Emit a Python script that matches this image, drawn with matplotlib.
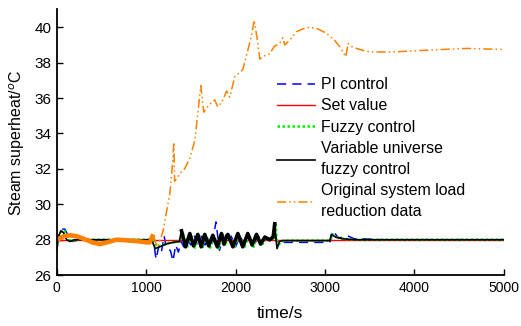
import numpy as np
import matplotlib
matplotlib.use("Agg")
import matplotlib.pyplot as plt

plt.rcParams['font.family'] = ['Liberation Sans', 'DejaVu Sans']

# --- data ---
SET_T = [0, 5000]
SET_V = [28.0, 28.0]

PI_T = [0, 30, 60, 90, 130, 180, 250, 1080, 1110, 1140, 1170, 1200, 1230, 1270, 1300,
        1330, 1360, 1390, 1420, 1460, 1500, 1540, 1580, 1620, 1660, 1700, 1740, 1780,
        1820, 1860, 1900, 1950, 2000, 2050, 2100, 2150, 2200, 2250, 2300, 2350, 2400,
        2440, 2460, 2480, 2520, 3040, 3060, 3090, 3150, 3200, 3260, 3330, 3450, 3600, 5000]
PI_V = [27.8, 28.3, 28.6, 28.6, 28.2, 27.9, 28.0, 28.0, 26.9, 27.6, 27.3, 28.2, 27.5, 27.4, 26.8,
        27.7, 27.3, 27.9, 27.6, 28.0, 27.7, 28.2, 27.6, 28.2, 27.7, 28.1, 27.8, 29.0,
        27.4, 28.1, 27.7, 28.2, 27.6, 28.2, 27.7, 28.2, 27.7, 28.1, 27.8, 28.1, 27.9,
        28.7, 27.9, 27.85, 27.85, 27.85, 27.9, 28.5, 28.1, 28.15, 28.2, 28.05, 28.05, 28.0, 28.0]

FUZZY_T = [0, 25, 55, 85, 120, 160, 210, 270, 1070, 1110, 1160, 1230, 1310, 1380, 1405,
           1455, 1500, 1545, 1590, 1630, 1670, 1715, 1760, 1810, 1855, 1885, 1910, 1925,
           1985, 2040, 2095, 2150, 2200, 2250, 2295, 2340, 2390, 2430, 2448, 2460, 2478,
           2500, 2540, 3045, 3060, 3080, 3130, 3210, 3360, 3500, 5000]
FUZZY_V = [27.6, 28.2, 28.55, 28.5, 28.05, 27.9, 28.0, 28.0, 28.0, 27.6, 27.65, 27.8, 27.85,
           27.9, 28.45, 27.55, 28.3, 27.55, 28.25, 27.5, 28.25, 27.55, 28.2, 27.5, 28.3,
           27.65, 28.15, 28.25, 27.5, 28.3, 27.5, 28.3, 27.6, 28.25, 27.7, 28.1, 27.95,
           28.1, 28.85, 28.0, 27.6, 27.9, 27.95, 27.95, 27.95, 28.3, 28.15, 28.05, 28.0, 28.0, 28.0]

VU_T = [0, 20, 45, 75, 110, 150, 200, 260, 1060, 1100, 1150, 1220, 1300, 1370, 1395,
        1440, 1488, 1530, 1577, 1615, 1655, 1700, 1745, 1795, 1842, 1870, 1898, 1913,
        1970, 2025, 2080, 2136, 2185, 2234, 2280, 2327, 2380, 2420, 2438, 2450, 2464,
        2490, 2530, 3040, 3055, 3070, 3120, 3200, 3350, 3500, 5000]
VU_V = [27.4, 28.2, 28.5, 28.4, 28.0, 27.9, 28.0, 28.0, 28.0, 27.5, 27.6, 27.75, 27.85,
        27.9, 28.5, 27.6, 28.35, 27.65, 28.3, 27.6, 28.3, 27.65, 28.25, 27.6, 28.35,
        27.75, 28.2, 28.3, 27.6, 28.35, 27.6, 28.35, 27.7, 28.3, 27.75, 28.15, 28.0,
        28.15, 28.9, 28.1, 27.5, 27.9, 27.95, 27.95, 27.95, 28.3, 28.15, 28.05, 28.0, 28.0, 28.0]

ORIG_T = [0, 40, 80, 150, 220, 300, 400, 480, 560, 667, 750, 816, 900, 1003, 1040, 1080,
          1100, 1130, 1189, 1264, 1290, 1309, 1318, 1350, 1376, 1430, 1488, 1544, 1581,
          1611, 1644, 1700, 1767, 1800, 1850, 1900, 1935, 1990, 2080, 2137, 2178, 2207,
          2240, 2271, 2330, 2383, 2430, 2494, 2528, 2550, 2606, 2680, 2750, 2830, 2920,
          3016, 3100, 3165, 3233, 3258, 3300, 3352, 3450, 3535, 3758, 4135, 4582, 5000]
ORIG_V = [28.0, 28.1, 28.2, 28.25, 28.2, 28.05, 27.85, 27.75, 27.85, 28.0, 27.98, 27.95,
          27.92, 27.85, 27.85, 28.3, 27.9, 27.6, 28.5, 30.6, 32.0, 33.5, 31.3, 31.5, 31.75,
          32.0, 32.6, 33.6, 35.3, 36.7, 35.2, 35.6, 35.9, 35.5, 35.8, 36.4, 36.05, 37.2,
          37.6, 38.7, 39.5, 40.4, 39.4, 38.2, 38.4, 38.5, 38.9, 39.1, 39.4, 39.0, 39.27,
          39.74, 39.9, 40.0, 39.9, 39.65, 39.3, 38.9, 38.33, 39.08, 38.9, 38.8, 38.65,
          38.6, 38.6, 38.7, 38.8, 38.74]

ORANGE = '#ff8000'

fig = plt.figure(figsize=(5.21, 3.26), dpi=100)
ax = fig.add_axes([0.109, 0.156, 0.858, 0.815])

ax.plot(PI_T, PI_V, color='#0000ff', ls=(0, (6, 4)), lw=1.1, label='PI control')
ax.plot(SET_T, SET_V, color='#ff0000', lw=1.0, label='Set value')
ax.plot(FUZZY_T, FUZZY_V, color='#00ee00', ls=(0, (1, 1)), lw=1.8, label='Fuzzy control')
ax.plot(VU_T, VU_V, color='black', lw=1.2, label='Variable universe\nfuzzy control')

# oscillating part of the black curve looks much heavier
vu_t = np.array(VU_T)
vu_v = np.array(VU_V)
osc = (vu_t >= 1395) & (vu_t <= 2438)
ax.plot(vu_t[osc], vu_v[osc], color='black', lw=2.6)

ax.plot(ORIG_T, ORIG_V, color=ORANGE, ls=(0, (6, 2, 1, 2, 1, 2)), lw=1.1,
        label='Original system load\nreduction data')
# early part of the original data is a dense band
orig_t = np.array(ORIG_T)
orig_v = np.array(ORIG_V)
early = orig_t <= 1080
ax.plot(orig_t[early], orig_v[early], color=ORANGE, lw=3.3, solid_capstyle='butt')

ax.set_xlim(0, 5000)
ax.set_ylim(26, 41)
ax.set_xticks([0, 1000, 2000, 3000, 4000, 5000])
ax.set_yticks([26, 28, 30, 32, 34, 36, 38, 40])
ax.tick_params(direction='in', labelsize=10, length=4, width=1, pad=4)
ax.tick_params(axis='y', labelsize=11)
for s in ['top', 'right']:
    ax.spines[s].set_visible(False)
for s in ['left', 'bottom']:
    ax.spines[s].set_linewidth(1.3)

ax.set_xlabel('time/s', fontsize=12.5, labelpad=8)
ax.set_ylabel('Steam superheat/$^o$C', fontsize=11.5, labelpad=5)

leg = ax.legend(loc='upper left', bbox_to_anchor=(0.476, 0.775), frameon=False,
                fontsize=11.4, handlelength=2.4, handletextpad=0.35, labelspacing=0.4,
                borderpad=0)
for txt in leg.get_texts():
    txt.set_linespacing(1.5)

fig.savefig('out.png', dpi=100)
